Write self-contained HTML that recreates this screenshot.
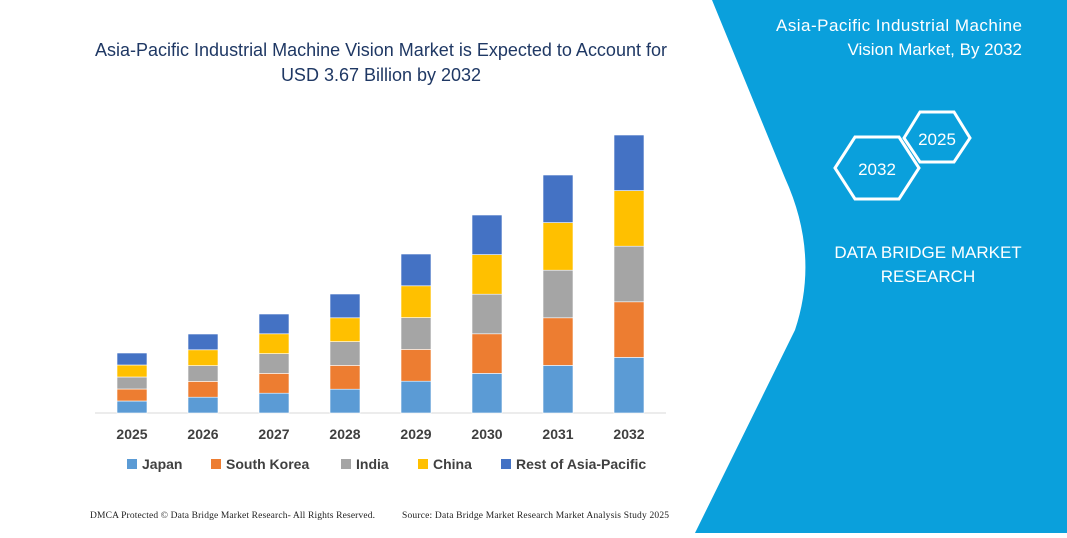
<!DOCTYPE html>
<html><head><meta charset="utf-8"><style>
body{margin:0;width:1067px;height:533px;overflow:hidden;background:#fff;font-family:"Liberation Sans",sans-serif}
</style></head><body>
<svg width="1067" height="533" viewBox="0 0 1067 533" xmlns="http://www.w3.org/2000/svg" font-family="Liberation Sans, sans-serif">
<rect width="1067" height="533" fill="#fff"/>
<path d="M712,0 L785,178 Q820,255 795,330 L695,533 L1067,533 L1067,0 Z" fill="#0aa0dc"/>
<text x="381" y="56" font-size="18" fill="#1f3864" text-anchor="middle" textLength="572">Asia-Pacific Industrial Machine Vision Market is Expected to Account for</text>
<text x="381" y="81" font-size="18" fill="#1f3864" text-anchor="middle">USD 3.67 Billion by 2032</text>
<line x1="95" y1="413" x2="666" y2="413" stroke="#d9d9d9" stroke-width="1"/>
<g id="bars"></g>
<g font-size="14" font-weight="bold" fill="#404040" text-anchor="middle">
<text x="132" y="439">2025</text><text x="203" y="439">2026</text><text x="274" y="439">2027</text><text x="345" y="439">2028</text><text x="416" y="439">2029</text><text x="487" y="439">2030</text><text x="558" y="439">2031</text><text x="629" y="439">2032</text>
</g>
<g font-size="14" font-weight="bold" fill="#404040">
<rect x="127" y="459" width="10" height="10" fill="#5b9bd5"/><text x="142" y="469">Japan</text>
<rect x="211" y="459" width="10" height="10" fill="#ed7d31"/><text x="226" y="469">South Korea</text>
<rect x="341" y="459" width="10" height="10" fill="#a5a5a5"/><text x="356" y="469">India</text>
<rect x="418" y="459" width="10" height="10" fill="#ffc000"/><text x="433" y="469">China</text>
<rect x="501" y="459" width="10" height="10" fill="#4472c4"/><text x="516" y="469">Rest of Asia-Pacific</text>
</g>
<text x="90" y="518" font-size="9.5" fill="#222" font-family="Liberation Serif, serif" textLength="285">DMCA Protected © Data Bridge Market Research-  All Rights Reserved.</text>
<text x="402" y="518" font-size="9.5" fill="#222" font-family="Liberation Serif, serif" textLength="267">Source:  Data Bridge Market Research  Market Analysis Study 2025</text>
<g fill="#fff" font-size="17" text-anchor="end">
<text x="1022" y="31" textLength="246">Asia-Pacific Industrial Machine</text>
<text x="1022" y="55">Vision Market, By 2032</text>
</g>
<polygon points="835,168 855,137 899,137 919,168 899,199 855,199" fill="none" stroke="#fff" stroke-width="3"/>
<polygon points="904,138 920,112 954,112 970,138 954,162 920,162" fill="none" stroke="#fff" stroke-width="3"/>
<text x="877" y="175" fill="#fff" font-size="17" text-anchor="middle">2032</text>
<text x="937" y="145" fill="#fff" font-size="17" text-anchor="middle">2025</text>
<g fill="#fff" font-size="17" text-anchor="middle">
<text x="928" y="258">DATA BRIDGE MARKET</text>
<text x="928" y="282">RESEARCH</text>
</g>
</svg>
<script>
var cx=[132,203,274,345,416,487,558,629],tops=[353,334,314,294,254,215,175,135];
var cols=["#5b9bd5","#ed7d31","#a5a5a5","#ffc000","#4472c4"];
var g=document.getElementById("bars"),s="";
for(var i=0;i<8;i++){var h=(413-tops[i])/5;for(var j=0;j<5;j++){var y=413-h*(j+1);
s+='<rect x="'+(cx[i]-15)+'" y="'+y+'" width="30" height="'+h+'" fill="'+cols[j]+'" stroke="#fff" stroke-width="0.6"/>';}}
g.innerHTML=s;
</script>
</body></html>
